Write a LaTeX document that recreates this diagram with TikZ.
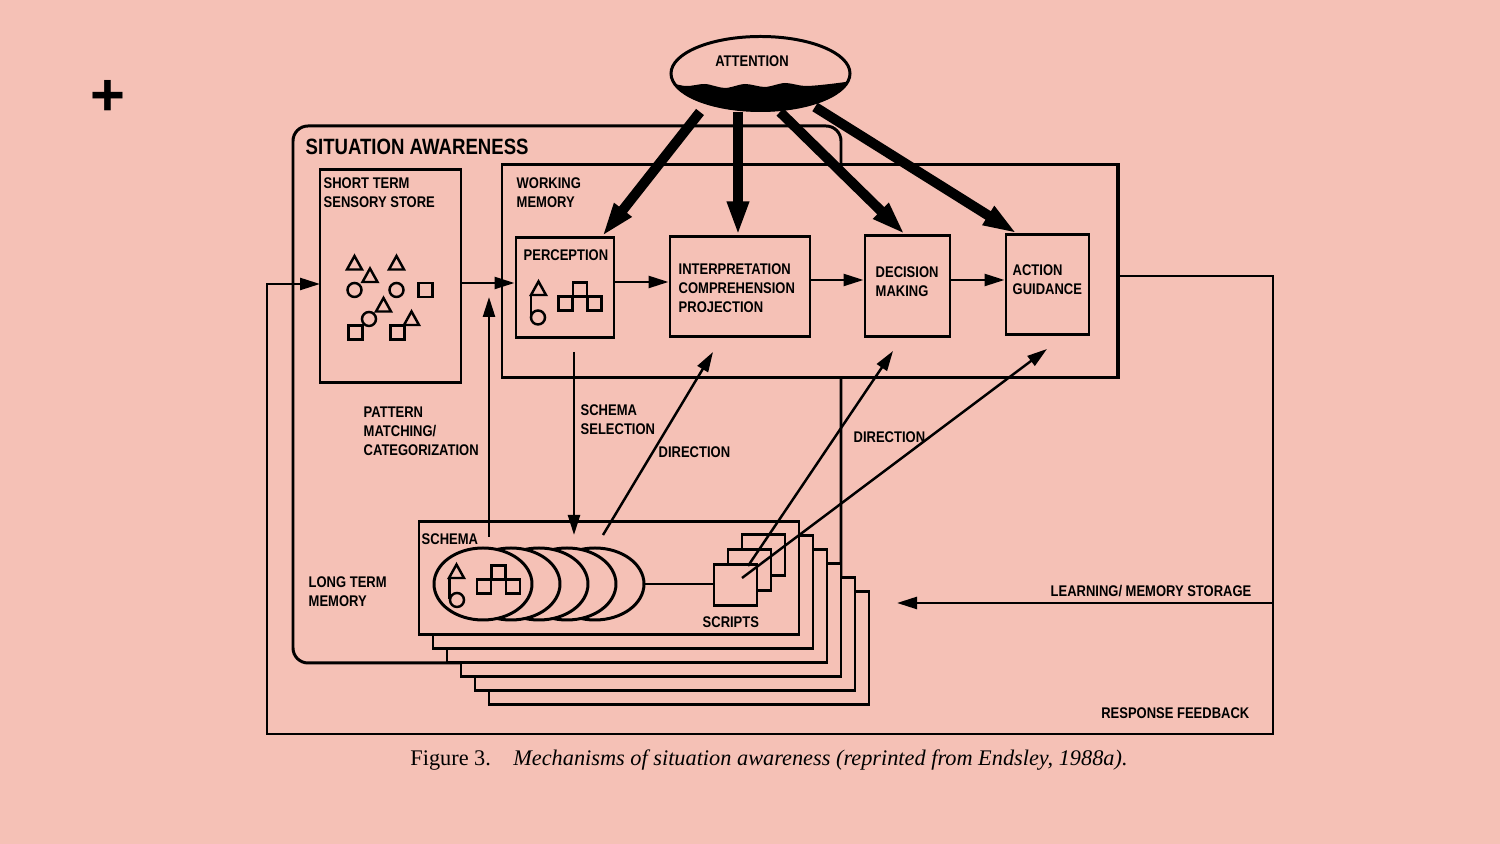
\documentclass[tikz,border=0pt]{standalone}
\usepackage{fontspec}
\setmainfont{Liberation Serif}
\setsansfont{Liberation Sans}[FakeStretch=0.84]
\newfontfamily\plusfont{Liberation Sans}
\usetikzlibrary{arrows.meta,shapes.geometric}
\definecolor{bgpink}{RGB}{245,193,182}
\newcommand{\lblfont}{\sffamily\bfseries\fontsize{4.4}{5.4}\selectfont}
\newcommand{\headfont}{\sffamily\bfseries\fontsize{6.3}{7}\selectfont}
\tikzset{
  box/.style={draw, line width=0.85pt, fill=bgpink, inner sep=0pt},
  lbl/.style={inner sep=0pt, align=left, font=\lblfont},
  flow/.style={line width=0.7pt, -{Triangle[length=0.2cm,width=0.12cm]}},
  wire/.style={line width=0.7pt},
  beam/.style={line width=0.1cm, -{Triangle[length=0.34cm,width=0.2cm]}},
  tri/.pic={\draw[line width=0.7pt] (-0.075,0.065) -- (0.075,0.065) -- (0,-0.07) -- cycle;},
  ring/.pic={\draw[line width=0.7pt] (0,0) circle (0.07);},
  sq/.pic={\draw[line width=0.7pt] (-0.072,-0.072) rectangle (0.072,0.072);}
}
\begin{document}
\begin{tikzpicture}[x=1cm,y=-1cm]
                        \useasboundingbox (0,0) rectangle (15,8.44);
                        \fill [bgpink] (0,0) rectangle (15,8.44);
                        {\lblfont

                        % Marking the plus sign
                        \draw (1.080000,0.980000) node (plus) [inner sep=0pt, font={\plusfont\bfseries\fontsize{17}{17}\selectfont}] {+};%

                        % Drawing outline situation awareness
                        \draw [line width=0.85pt, rounded corners=0.15cm] (2.930000,1.260000) rectangle (8.410000,6.630000);%

                        % Free ends of the connectors
                        \coordinate (fbne) at (12.730000,2.760000);
                        \coordinate (fbse) at (12.730000,7.340000);
                        \coordinate (fbsw) at (2.670000,7.340000);
                        \coordinate (fbnw) at (2.670000,2.840000);
                        \coordinate (learn) at (12.730000,6.030000);
                        \coordinate (learnTip) at (8.970000,6.030000);
                        \coordinate (selTop) at (5.740000,3.520000);
                        \coordinate (selTip) at (5.740000,5.350000);
                        \coordinate (recall) at (4.890000,5.370000);
                        \coordinate (recallTip) at (4.890000,2.970000);
                        \coordinate (dirInterp) at (7.130000,3.520000);
                        \coordinate (dirDecis) at (8.930000,3.510000);
                        \coordinate (dirAction) at (10.470000,3.490000);
                        \coordinate (dirSchema) at (6.030000,5.350000);
                        \coordinate (dirScriptA) at (7.480000,5.660000);
                        \coordinate (dirScriptB) at (7.420000,5.780000);

                        % Drawing long term memory stack
                        \foreach \i in {5,4,...,0}
                          \node [box, minimum width=3.8cm, minimum height=1.13cm] (schema\i) at (6.09+0.14*\i,5.785+0.14*\i) {};

                        % Drawing schema ovals
                        \foreach \i in {4,3,...,0}
                          \node [box, ellipse, minimum width=0.98cm, minimum height=0.72cm] (oval\i) at (4.83+0.28*\i,5.840000) {};

                        % Drawing scripts
                        \foreach \i in {2,1,0}
                          \node [box, minimum width=0.43cm, minimum height=0.41cm] (script\i) at (7.355+0.14*\i,5.855-0.15*\i) {};
                        \draw [wire] (oval4.east) -- (oval4.east -| script0.west);%

                        % Drawing schema symbols
                        \pic at (4.565000,5.715000) {tri};
                        \pic at (4.570000,6.000000) {ring};
                        \draw [wire] (4.495000,5.780000) -- (4.495000,5.990000);%
                        \pic at (4.840000,5.865000) {sq};
                        \pic at (4.985000,5.725000) {sq};
                        \pic at (5.130000,5.865000) {sq};

                        % Drawing feedback lines
                        \draw [flow] (8.095000,2.760000) -- (fbne) -- (fbse) -- (fbsw) -- (fbnw) -- (3.200000,2.840000);%
                        \draw [flow] (learn) -- (learnTip);%

                        % Drawing box working memory
                        \node [box, minimum width=6.15cm, minimum height=2.13cm] (wm) at (8.095000,2.715000) {};

                        % Drawing box short term sensory store
                        \node [box, minimum width=1.41cm, minimum height=2.13cm] (stss) at (3.905000,2.765000) {};

                        % Drawing boxes of the processing chain
                        \node [box, minimum width=0.98cm, minimum height=1.00cm] (percep) at (5.650000,2.880000) {};
                        \node [box, minimum width=1.40cm, minimum height=1.00cm] (interp) at (7.400000,2.870000) {};
                        \node [box, minimum width=0.85cm, minimum height=1.01cm] (decis) at (9.075000,2.865000) {};
                        \node [box, minimum width=0.83cm, minimum height=1.00cm] (action) at (10.475000,2.850000) {};

                        % Drawing right edge of working memory over the feedback line
                        \draw [line width=0.85pt] (wm.north east) -- (wm.south east);%

                        % Drawing sensory symbols
                        \pic at (3.545000,2.630000) {tri};
                        \pic at (3.965000,2.630000) {tri};
                        \pic at (3.700000,2.755000) {tri};
                        \pic at (3.545000,2.900000) {ring};
                        \pic at (3.965000,2.900000) {ring};
                        \pic at (4.255000,2.900000) {sq};
                        \pic at (3.835000,3.050000) {tri};
                        \pic at (3.690000,3.190000) {ring};
                        \pic at (3.555000,3.325000) {sq};
                        \pic at (3.975000,3.325000) {sq};
                        \pic at (4.115000,3.185000) {tri};

                        % Drawing perception symbols
                        \pic at (5.385000,2.885000) {tri};
                        \pic at (5.380000,3.175000) {ring};
                        \draw [wire] (5.310000,2.950000) -- (5.310000,3.165000);%
                        \pic at (5.655000,3.035000) {sq};
                        \pic at (5.800000,2.895000) {sq};
                        \pic at (5.945000,3.035000) {sq};

                        % Drawing chain arrows
                        \draw [flow] (stss.east |- 0,2.830000) -- (percep.west |- 0,2.830000);%
                        \draw [flow] (percep.east |- 0,2.820000) -- (interp.west |- 0,2.820000);%
                        \draw [flow] (interp.east |- 0,2.800000) -- (decis.west |- 0,2.800000);%
                        \draw [flow] (decis.east |- 0,2.800000) -- (action.west |- 0,2.800000);%

                        % Drawing schema arrows
                        \draw [flow] (recall) -- (recallTip);%
                        \draw [flow] (selTop) -- (selTip);%
                        \draw [flow] (dirSchema) -- (dirInterp);%
                        \draw [flow] (dirScriptA) -- (dirDecis);%
                        \draw [flow] (dirScriptB) -- (dirAction);%

                        % Drawing attention
                        \node [draw, ellipse, line width=0.85pt, fill=bgpink, inner sep=0pt, minimum width=1.79cm, minimum height=0.74cm] (attn) at (7.605000,0.735000) {};
                        \begin{scope}
                        \clip (7.605000,0.735000) ellipse (0.905 and 0.38);
                        \fill plot [smooth] coordinates {(6.60,0.80) (6.85,0.86) (7.05,0.84) (7.25,0.88) (7.45,0.84) (7.65,0.87) (7.85,0.83) (8.05,0.86) (8.30,0.84) (8.60,0.80)} -- (8.70,1.20) -- (6.50,1.20) -- cycle;
                        \end{scope}
                        \draw [beam] (attn.south -| 7.000000,0) -- (percep.north -| 6.020000,0);%
                        \draw [beam] (attn.south -| 7.380000,0) -- (interp.north -| 7.380000,0);%
                        \draw [beam] (attn.south -| 7.800000,0) -- (decis.north -| 9.050000,0);%
                        \draw [beam] ([yshift=0.05cm]attn.south -| 8.150000,0) -- (action.north -| 10.170000,0);%

                        % Marking labels
                        \draw (3.050000,1.470000) node (salbl) [anchor=west, inner sep=0pt, font=\headfont] {SITUATION AWARENESS};%
                        \draw (3.230000,1.775000) node (stsslbl) [lbl, anchor=north west] {SHORT TERM\\SENSORY STORE};%
                        \draw (5.160000,1.775000) node (wmlbl) [lbl, anchor=north west] {WORKING\\MEMORY};%
                        \draw (5.230000,2.550000) node (perceplbl) [lbl, anchor=west] {PERCEPTION};%
                        \draw (6.780000,2.635000) node (interplbl) [lbl, anchor=north west] {INTERPRETATION\\COMPREHENSION\\PROJECTION};%
                        \draw (8.750000,2.665000) node (decislbl) [lbl, anchor=north west] {DECISION\\MAKING};%
                        \draw (10.120000,2.645000) node (actionlbl) [lbl, anchor=north west] {ACTION\\GUIDANCE};%
                        \draw (3.630000,4.065000) node (patternlbl) [lbl, anchor=north west] {PATTERN\\MATCHING/\\CATEGORIZATION};%
                        \draw (5.800000,4.045000) node (sellbl) [lbl, anchor=north west] {SCHEMA\\SELECTION};%
                        \draw (6.580000,4.520000) node (dirlblA) [lbl, anchor=west] {DIRECTION};%
                        \draw (8.530000,4.370000) node (dirlblB) [lbl, anchor=west] {DIRECTION};%
                        \draw (3.080000,5.765000) node (ltmlbl) [lbl, anchor=north west] {LONG TERM\\MEMORY};%
                        \draw (4.210000,5.390000) node (schemalbl) [lbl, anchor=west] {SCHEMA};%
                        \draw (7.020000,6.220000) node (scriptlbl) [lbl, anchor=west] {SCRIPTS};%
                        \draw (12.520000,5.910000) node (learnlbl) [lbl, anchor=east] {LEARNING/ MEMORY STORAGE};%
                        \draw (12.500000,7.130000) node (resplbl) [lbl, anchor=east] {RESPONSE FEEDBACK};%
                        \draw (7.520000,0.610000) node (attnlbl) [lbl] {ATTENTION};%

                        % Marking caption
                        \draw (7.690000,7.600000) node (caption) [inner sep=0pt, font={\rmfamily\mdseries\fontsize{6.35}{7}\selectfont}] {Figure 3.\quad\textit{Mechanisms of situation awareness (reprinted from Endsley, 1988a).}};%
                        }
\end{tikzpicture}
\end{document}
